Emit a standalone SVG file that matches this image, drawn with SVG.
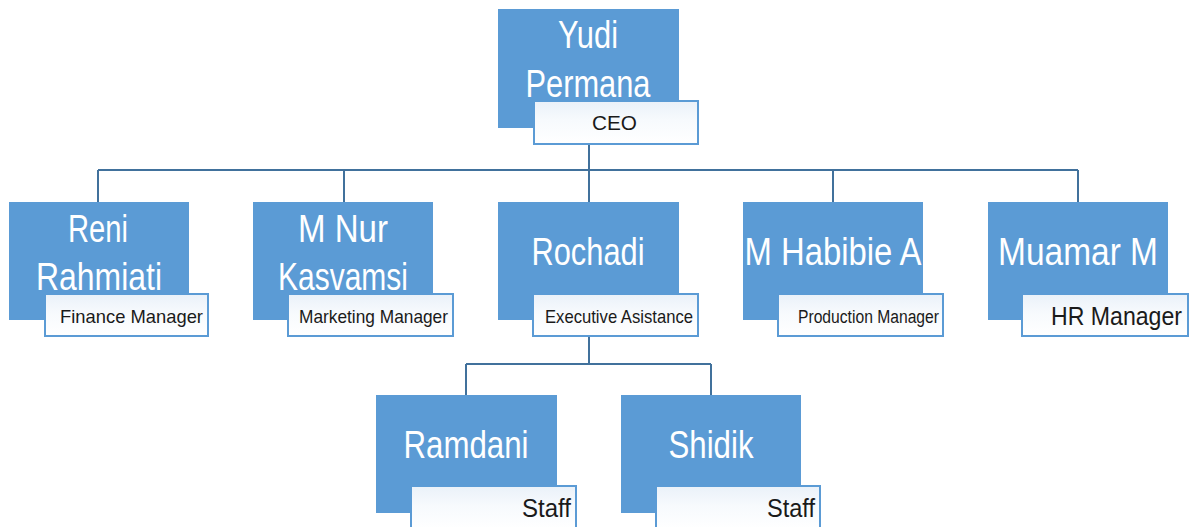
<svg xmlns="http://www.w3.org/2000/svg" width="1198" height="527" viewBox="0 0 1198 527">
<defs>
<linearGradient id="lg" x1="0" y1="0" x2="0" y2="1">
<stop offset="0" stop-color="#EAF1F9"/>
<stop offset="0.45" stop-color="#F7FAFD"/>
<stop offset="1" stop-color="#FFFFFF"/>
</linearGradient>
<style>
.box{fill:#5B9BD5;}
.lbl{fill:url(#lg);stroke:#5B9BD5;stroke-width:2;}
.name{font-family:"Liberation Sans",Arial,sans-serif;font-size:38px;fill:#FFFFFF;text-anchor:middle;}
.role{font-family:"Liberation Sans",Arial,sans-serif;font-size:19px;fill:#1A1A1A;}
.conn{fill:none;stroke:#41719C;stroke-width:2;}
</style>
</defs>
<rect width="1198" height="527" fill="#FFFFFF"/>
<g id="connectors">
<path class="conn" d="M589 144 V170 M98 170 H1078 M98 170 V202 M344 170 V202 M589 170 V202 M833 170 V202 M1078 170 V202"/>
<path class="conn" d="M589 336 V364 M466 364 H711 M466 364 V395 M711 364 V395"/>
</g>
<g id="node-ceo">
<rect class="box" x="498" y="9" width="181" height="119"/>
<text class="name" x="588" y="48" textLength="60" lengthAdjust="spacingAndGlyphs">Yudi</text>
<text class="name" x="588" y="97" textLength="125" lengthAdjust="spacingAndGlyphs">Permana</text>
<rect class="lbl" x="534" y="101" width="164" height="43"/>
<text class="role" x="592" y="130" style="font-size:21px" textLength="45" lengthAdjust="spacingAndGlyphs">CEO</text>
</g>
<g id="node-reni">
<rect class="box" x="9" y="202" width="180" height="118"/>
<text class="name" x="98" y="242" textLength="60" lengthAdjust="spacingAndGlyphs">Reni</text>
<text class="name" x="99" y="290" textLength="126" lengthAdjust="spacingAndGlyphs">Rahmiati</text>
<rect class="lbl" x="45" y="294" width="163" height="42"/>
<text class="role" x="60" y="323" textLength="143" lengthAdjust="spacingAndGlyphs">Finance Manager</text>
</g>
<g id="node-mnur">
<rect class="box" x="253" y="202" width="180" height="118"/>
<text class="name" x="343" y="242" textLength="90" lengthAdjust="spacingAndGlyphs">M Nur</text>
<text class="name" x="343" y="290" textLength="130" lengthAdjust="spacingAndGlyphs">Kasvamsi</text>
<rect class="lbl" x="288" y="294" width="165" height="42"/>
<text class="role" x="299" y="323" textLength="149" lengthAdjust="spacingAndGlyphs">Marketing Manager</text>
</g>
<g id="node-rochadi">
<rect class="box" x="498" y="202" width="181" height="118"/>
<text class="name" x="588" y="265" textLength="113" lengthAdjust="spacingAndGlyphs">Rochadi</text>
<rect class="lbl" x="533" y="294" width="165" height="42"/>
<text class="role" x="545" y="323" textLength="148" lengthAdjust="spacingAndGlyphs">Executive Asistance</text>
</g>
<g id="node-habibie">
<rect class="box" x="743" y="202" width="180" height="118"/>
<text class="name" x="833" y="265" textLength="177" lengthAdjust="spacingAndGlyphs">M Habibie A</text>
<rect class="lbl" x="778" y="294" width="165" height="42"/>
<text class="role" x="798" y="323" style="font-size:18px" textLength="141" lengthAdjust="spacingAndGlyphs">Production Manager</text>
</g>
<g id="node-muamar">
<rect class="box" x="988" y="202" width="180" height="118"/>
<text class="name" x="1078" y="265" textLength="160" lengthAdjust="spacingAndGlyphs">Muamar M</text>
<rect class="lbl" x="1022" y="294" width="166" height="42"/>
<text class="role" x="1051" y="325" style="font-size:25px" textLength="131" lengthAdjust="spacingAndGlyphs">HR Manager</text>
</g>
<g id="node-ramdani">
<rect class="box" x="376" y="395" width="181" height="118"/>
<text class="name" x="466" y="458" textLength="125" lengthAdjust="spacingAndGlyphs">Ramdani</text>
<rect class="lbl" x="411" y="486" width="165" height="44"/>
<text class="role" x="522" y="517" style="font-size:26px" textLength="49" lengthAdjust="spacingAndGlyphs">Staff</text>
</g>
<g id="node-shidik">
<rect class="box" x="621" y="395" width="180" height="118"/>
<text class="name" x="711" y="458" textLength="85" lengthAdjust="spacingAndGlyphs">Shidik</text>
<rect class="lbl" x="656" y="486" width="164" height="44"/>
<text class="role" x="767" y="517" style="font-size:26px" textLength="48" lengthAdjust="spacingAndGlyphs">Staff</text>
</g>
</svg>
